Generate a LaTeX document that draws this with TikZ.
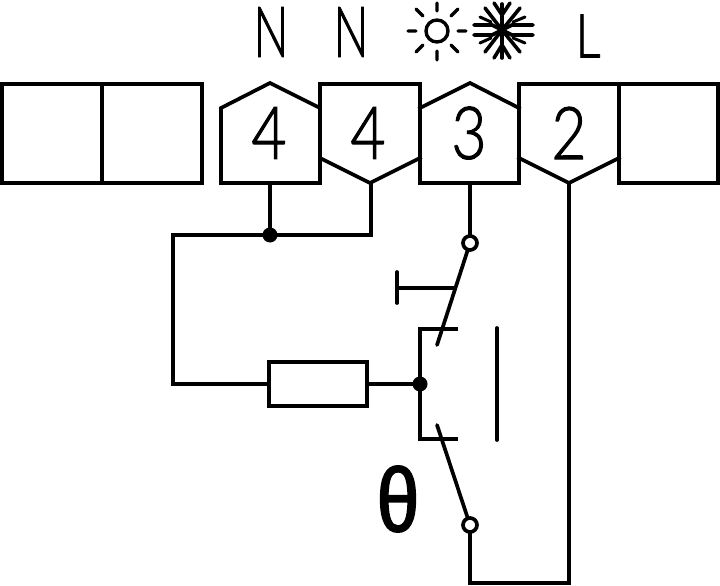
\documentclass[tikz,border=0pt]{standalone}
\usepackage{fontspec}
\setmainfont{Lato Light}
\newfontfamily\cadfont[FakeBold=1.6]{Lato Light}
\newfontfamily\thetafont[FakeBold=2.2]{Liberation Sans}
\begin{document}
\begin{tikzpicture}[x=1pt,y=-1pt,line join=miter,
  wire/.style={line width=3.7pt,line cap=rect},
  thin wire/.style={line width=3.7pt,line cap=round},
  flake/.style={line width=3.6pt},
  lbl/.style={inner sep=0pt,anchor=center,font=\cadfont\fontsize{70}{70}\selectfont},
  num/.style={inner sep=0pt,anchor=center,font=\cadfont\fontsize{73}{73}\selectfont},
  junction/.style={circle,fill=black,inner sep=0pt,minimum size=15pt},
  contact/.style={circle,draw=black,fill=white,line width=3.7pt,inner sep=0pt,minimum size=14pt}]
\useasboundingbox (0,0) rectangle (720,586);
% terminal blocks
\draw[wire] (2,84) rectangle (102,183);
\draw[wire] (102,84) rectangle (202,183);
\draw[wire] (221,183) -- (221,108) -- (270,83) -- (320,108) -- (320,183) -- cycle;
\draw[wire] (320,84) -- (420,84) -- (420,183) -- (519,183) -- (519,84) -- (619,84);
\draw[wire] (320,84) -- (320,158) -- (370,183) -- (420,158);
\draw[wire] (420,108) -- (470,83) -- (519,108);
\draw[wire] (519,158) -- (569,183) -- (619,158);
\draw[wire] (619,84) rectangle (718,183);
% labels
\node[lbl] (n1) at (271,32) {\scalebox{0.66}[1]{N}};
\node[lbl] (n2) at (351,32) {\scalebox{0.66}[1]{N}};
\node[lbl] (ll) at (588,36) {\scalebox{0.7}[0.86]{L}};
\node[num] (t4a) at (269,133) {\scalebox{0.83}[1]{4}};
\node[num] (t4b) at (368,133) {\scalebox{0.83}[1]{4}};
\node[num] (t3) at (469,133) {\scalebox{0.83}[1]{3}};
\node[num] (t2) at (569,133) {\scalebox{0.83}[1]{2}};
% sun
\draw[line width=3.4pt] (437,31) circle (11);
\draw[line width=3.4pt,line cap=round] (437,3)--(437,11) (437,51)--(437,60) (408,31)--(416,31) (458,31)--(466,31)
 (416,9)--(423,16) (458,9)--(451,16) (416,52)--(423,45) (458,52)--(451,45);
% snowflake
\coordinate (fc) at (502,30);
\draw[flake,line cap=round] (502,4)--(502,58);
\draw[flake,line cap=round] (fc)--(492,25)--(474,25) (fc)--(512,25)--(533,25) (fc)--(492,35)--(474,35) (fc)--(512,35)--(533,35);
\draw[flake,line cap=round] (485,8)--(fc)--(520,8) (485,52)--(fc)--(520,52);
\draw[flake,line cap=round] (494,3)--(502,15)--(510,3) (494,58)--(502,45)--(510,58);
\draw[line width=3pt,line cap=round] (480,17)--(491,22) (525,17)--(513,22) (480,43)--(491,38) (525,43)--(513,38);
% wires
\coordinate (j1) at (270,235);
\coordinate (j2) at (420,384);
\draw[wire] (270,183) -- (j1);
\draw[wire] (371,183) -- (371,235) -- (173,235) -- (173,384) -- (269,384);
\draw[wire] (269,362) rectangle (367,406);
\draw[wire] (367,384) -- (j2);
\node[junction] (d1) at (j1) {};
\node[junction] (d2) at (j2) {};
\draw[wire] (456,329) -- (420,329) -- (420,439) -- (456,439);
\draw[wire] (470,183) -- (470,235);
\draw[wire] (470,533) -- (470,583) -- (569,583) -- (569,183);
\draw[thin wire] (470,243) -- (437,345);
\draw[thin wire] (470,525) -- (437,425);
\node[contact] (c1) at (470,243) {};
\node[contact] (c2) at (470,525) {};
\draw[thin wire] (397,272) -- (397,303);
\draw[wire] (397,288) -- (455,288);
\draw[thin wire] (497,328) -- (497,440);
\node[inner sep=0pt] (theta) at (398,499) {\thetafont\fontsize{90}{90}\selectfont\scalebox{0.85}[1]{θ}};
\end{tikzpicture}
\end{document}
